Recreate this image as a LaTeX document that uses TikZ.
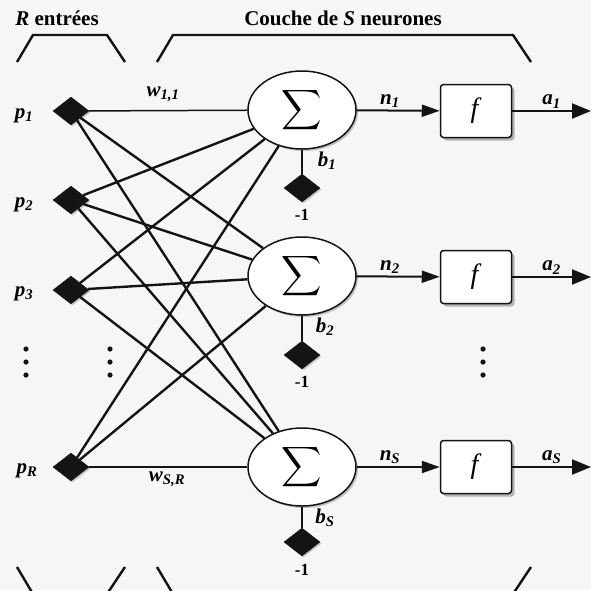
\documentclass[tikz,border=0pt]{standalone}
\usepackage{fontspec}
\setmainfont{Liberation Serif}
\usetikzlibrary{arrows.meta,calc,positioning,shapes.geometric,shadows}
\definecolor{ink}{HTML}{141414}
\definecolor{paper}{HTML}{F6F6F4}
\newcommand{\vlab}[2]{\textbf{\textit{#1}}\textsubscript{\textbf{\textit{#2}}}}
\newcommand{\bigsum}{\scalebox{2.8}{$\displaystyle\sum$}}
\tikzset{>={Triangle[length=18pt,width=12pt]},line width=1.5pt,
  every node/.style={font=\fontsize{21}{21}\selectfont\bfseries,inner sep=1pt},
  biaslab/.style={font=\fontsize{17}{17}\selectfont\bfseries},
  inbox/.style={diamond,fill=ink,draw=ink,minimum width=36pt,minimum height=28pt,
    inner sep=0pt,drop shadow={shadow xshift=1.5pt,shadow yshift=-1.5pt,fill=black!40}},
  sumnode/.style={ellipse,draw=ink,line width=1.5pt,fill=white,minimum width=108pt,
    minimum height=78pt,inner sep=0pt,
    drop shadow={shadow xshift=2pt,shadow yshift=-2pt,fill=black!45}},
  fbox/.style={rectangle,rounded corners=3pt,draw=ink,line width=1.5pt,fill=white,
    minimum width=71pt,minimum height=53pt,font=\fontsize{28}{28}\selectfont,
    drop shadow={shadow xshift=3pt,shadow yshift=-3pt,fill=black!55}},
  wire/.style={draw=ink,line width=2.4pt},
  hwire/.style={draw=ink,line width=1.5pt},
  flow/.style={->,draw=ink,line width=2pt},
  outflow/.style={-{Triangle[length=19pt,width=15pt]},draw=ink,line width=2pt},
  brace/.style={draw=ink,line width=2.4pt},
  dotmark/.style={fill=ink}}

\begin{document}
\begin{tikzpicture}[x=1pt,y=-1pt]
\fill[paper] (0,0) rectangle (591,590);
\useasboundingbox (0,0) rectangle (591,590);
% titles and brackets
\node (hin) at (57,18) {\textit{R} entrées};
\node (hlay) at (343,18) {Couche de \textit{S} neurones};
\draw[brace] (17,62) -- (33,35) -- (107,35) -- (125,62);
\draw[brace] (157,62) -- (173,35) -- (513,35) -- (531,62);
\begin{scope}
\clip (0,0) rectangle (591,590);
\draw[brace] (17,567) -- (33,594) -- (107,594) -- (125,567);
\draw[brace] (157,567) -- (173,594) -- (513,594) -- (531,567);
\end{scope}
% inputs
\node[inbox] (p1) at (71,111) {};
\node[inbox] (p2) at (71,200) {};
\node[inbox] (p3) at (71,290) {};
\node[inbox] (pR) at (71,467) {};
\node (lp1) at (24,116) {\vlab{p}{1}};
\node (lp2) at (24,205) {\vlab{p}{2}};
\node (lp3) at (24,294) {\vlab{p}{3}};
\node (lpR) at (27,471) {\vlab{p}{R}};
% neurons
\node[sumnode] (s1) at (302,110) {\bigsum};
\node[sumnode] (s2) at (302,276) {\bigsum};
\node[sumnode] (s3) at (302,467) {\bigsum};
% weights
\draw[hwire] (p1) -- (s1);
\draw[wire] (p1) -- (s2);
\draw[wire] (p1) -- (s3);
\draw[wire] (p2) -- (s1);
\draw[wire] (p2) -- (s2);
\draw[wire] (p2) -- (s3);
\draw[wire] (p3) -- (s1);
\draw[wire] (p3) -- (s2);
\draw[wire] (p3) -- (s3);
\draw[wire] (pR) -- (s1);
\draw[wire] (pR) -- (s2);
\draw[hwire] (pR) -- (s3);
\node (w11) at (163,94) {\vlab{w}{1,1}};
\node (wSR) at (167,479) {\vlab{w}{S,R}};
% biases
\node[inbox] (b1) at (302,188) {};
\node[inbox] (b2) at (302,355) {};
\node[inbox] (bS) at (302,542) {};
\draw[hwire] (s1) -- (b1);
\draw[hwire] (s2) -- (b2);
\draw[hwire] (s3) -- (bS);
\node (lb1) at ($(s1)+(25,51)$) {\vlab{b}{1}};
\node (lb2) at ($(s2)+(23,51)$) {\vlab{b}{2}};
\node (lbS) at ($(s3)+(23,51)$) {\vlab{b}{S}};
\node[biaslab] (m1) at ($(b1)+(0,27)$) {-1};
\node[biaslab] (m2) at ($(b2)+(0,27)$) {-1};
\node[biaslab] (mS) at ($(bS)+(0,28)$) {-1};
% transfer functions
\node[fbox] (f1) at (476,111) {\textit{f}};
\node[fbox] (f2) at (476,277) {\textit{f}};
\node[fbox] (f3) at (476,467) {\textit{f}};
\coordinate (o1) at (591,111);
\coordinate (o2) at (591,277);
\coordinate (o3) at (591,467);
\draw[flow] (s1) -- (f1) node[pos=.4,above=1pt] (n1) {\vlab{n}{1}};
\draw[flow] (s2) -- (f2) node[pos=.4,above=1pt] (n2) {\vlab{n}{2}};
\draw[flow] (s3) -- (f3) node[pos=.4,above=1pt] (nS) {\vlab{n}{S}};
\draw[outflow] (f1) -- (o1) node[midway,above=1pt] (a1) {\vlab{a}{1}};
\draw[outflow] (f2) -- (o2) node[midway,above=1pt] (a2) {\vlab{a}{2}};
\draw[outflow] (f3) -- (o3) node[midway,above=1pt] (aS) {\vlab{a}{S}};
% dots
\fill[dotmark] (26,349) circle (2.6pt) (26,362) circle (2.6pt) (26,375) circle (2.6pt);
\fill[dotmark] (110,349) circle (2.6pt) (110,362) circle (2.6pt) (110,375) circle (2.6pt);
\fill[dotmark] (483,349) circle (2.6pt) (483,362) circle (2.6pt) (483,375) circle (2.6pt);
\end{tikzpicture}
\end{document}
